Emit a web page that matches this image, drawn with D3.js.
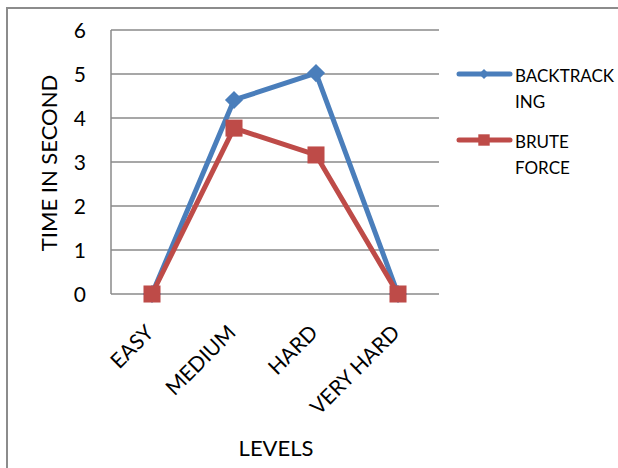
<!DOCTYPE html>
<html>
<head>
<meta charset="utf-8">
<script src="https://cdn.jsdelivr.net/npm/d3@7"></script>
<style>
  body { margin: 0; background: #fff; }
  text { font-family: Lato, "Open Sans", sans-serif; fill: #000; }
</style>
</head>
<body>
<svg width="618" height="468"></svg>
<script>
const levels = ["EASY", "MEDIUM", "HARD", "VERY HARD"]
const backtracking = [0, 4.41, 5.02, 0]
const bruteForce = [0, 3.77, 3.16, 0]
const yTicks = [0, 1, 2, 3, 4, 5, 6]

const svg = d3.select("svg")

// outer frame
svg.append("rect")
  .attr("x", 7).attr("y", 8)
  .attr("width", 640).attr("height", 480)
  .attr("fill", "none")
  .attr("stroke", "#8c8c8c")
  .attr("stroke-width", 2)

const x = d3.scaleBand().domain(levels).range([111, 439])
const y = d3.scaleLinear().domain([0, 6]).range([294, 30])

// gridlines
svg.append("g")
  .selectAll("line")
  .data(yTicks)
  .enter()
  .append("line")
  .attr("x1", 111).attr("x2", 439)
  .attr("y1", d => y(d)).attr("y2", d => y(d))
  .attr("stroke", "#8a8a8a")
  .attr("stroke-width", 1.5)

svg.append("line")
  .attr("x1", 111).attr("x2", 111)
  .attr("y1", y(6)).attr("y2", y(0))
  .attr("stroke", "#8a8a8a")
  .attr("stroke-width", 1.5)

// y labels
svg.append("g")
  .selectAll("text")
  .data(yTicks)
  .enter()
  .append("text")
  .attr("x", 86)
  .attr("y", d => y(d))
  .attr("dy", "0.36em")
  .attr("text-anchor", "end")
  .style("font-size", "21px")
  .text(d => d)

// x labels, rotated
svg.append("g")
  .selectAll("text")
  .data(levels)
  .enter()
  .append("text")
  .attr("transform", d => `translate(${x(d) + x.bandwidth() / 2 + 3}, 334) rotate(-45)`)
  .attr("text-anchor", "end")
  .style("font-size", "21px")
  .text(d => d)

svg.append("text")
  .attr("transform", "translate(57, 163) rotate(-90)")
  .attr("text-anchor", "middle")
  .style("font-size", "22px")
  .text("TIME IN SECOND")

svg.append("text")
  .attr("x", 276).attr("y", 456)
  .attr("text-anchor", "middle")
  .style("font-size", "22px")
  .text("LEVELS")

const cx = d => x(d) + x.bandwidth() / 2
const line = d3.line()
  .x((d, i) => cx(levels[i]))
  .y(d => y(d))

const series = [
  { name: ["BACKTRACK", "ING"], values: backtracking, color: "#4a7ebb", shape: d3.symbolSquare, size: 165, rot: 45, legSize: 50 },
  { name: ["BRUTE", "FORCE"], values: bruteForce, color: "#be4b48", shape: d3.symbolSquare, size: 290, rot: 0, legSize: 130 }
]

series.forEach(s => {
  svg.append("path")
    .datum(s.values)
    .attr("d", line)
    .attr("fill", "none")
    .attr("stroke", s.color)
    .attr("stroke-width", 5)
    .attr("stroke-linejoin", "round")

  svg.append("g")
    .selectAll("path")
    .data(s.values)
    .enter()
    .append("path")
    .attr("transform", (d, i) => `translate(${cx(levels[i])}, ${y(d)}) rotate(${s.rot})`)
    .attr("d", d3.symbol().type(s.shape).size(s.size))
    .attr("fill", s.color)
})

// legend
const legend = svg.append("g")
series.forEach((s, k) => {
  const ly = 74 + k * 66
  legend.append("line")
    .attr("x1", 459).attr("x2", 510)
    .attr("y1", ly).attr("y2", ly)
    .attr("stroke", s.color)
    .attr("stroke-width", 5)
    .attr("stroke-linecap", "round")
  legend.append("path")
    .attr("transform", `translate(484, ${ly}) rotate(${s.rot})`)
    .attr("d", d3.symbol().type(s.shape).size(s.legSize))
    .attr("fill", s.color)
  s.name.forEach((t, j) => {
    legend.append("text")
      .attr("x", 515)
      .attr("y", ly + 8 + j * 26)
      .style("font-size", "17px")
      .text(t)
  })
})
</script>
</body>
</html>
